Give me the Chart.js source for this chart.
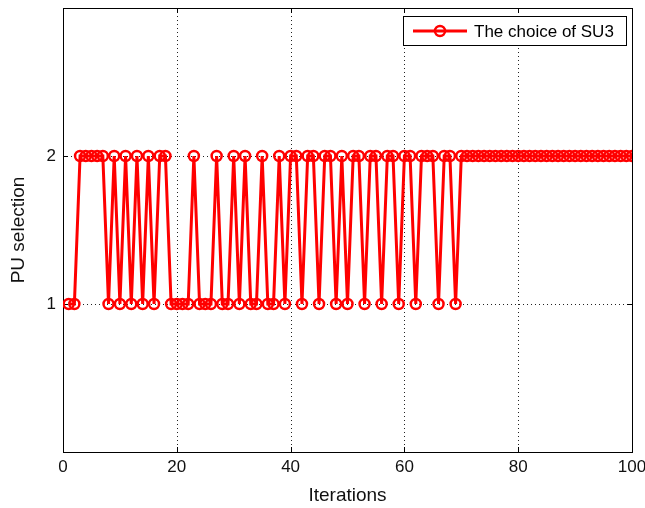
<!DOCTYPE html>
<html lang="en">
<head>
    <meta charset="UTF-8">
    <title>The choice of SU3</title>
    <style>
        body {
            margin: 0;
            padding: 0;
            background: #ffffff;
        }
        #chartBox {
            width: 645px;
            height: 508px;
        }
    </style>
    <script src="https://cdn.jsdelivr.net/npm/chart.js"></script>
</head>
<body>
    <div id="chartBox">
        <canvas id="suChart" width="645" height="508"></canvas>
    </div>

    <script>
        // PU chosen by SU3 at each iteration (1..100)
        const choiceSU3 = [
            1, 1, 2, 2, 2, 2, 2, 1, 2, 1,
            2, 1, 2, 1, 2, 1, 2, 2, 1, 1,
            1, 1, 2, 1, 1, 1, 2, 1, 1, 2,
            1, 2, 1, 1, 2, 1, 1, 2, 1, 2,
            2, 1, 2, 2, 1, 2, 2, 1, 2, 1,
            2, 2, 1, 2, 2, 1, 2, 2, 1, 2,
            2, 1, 2, 2, 2, 1, 2, 2, 1, 2,
            2, 2, 2, 2, 2, 2, 2, 2, 2, 2,
            2, 2, 2, 2, 2, 2, 2, 2, 2, 2,
            2, 2, 2, 2, 2, 2, 2, 2, 2, 2
        ];
        const iterations = choiceSU3.map((v, i) => i + 1);
        const xTicks = [0, 20, 40, 60, 80, 100];
        const yTicks = [1, 2];
        const seriesName = 'The choice of SU3';

        const lineColor = '#ff0000';
        const fontName = '"Liberation Sans", Arial, sans-serif';

        // marco, rejilla punteada y marcas hacia dentro (estilo MATLAB)
        const framePlugin = {
            id: 'frame',
            beforeDatasetsDraw(chart) {
                const ctx = chart.ctx;
                const a = chart.chartArea;
                const xs = chart.scales.x;
                const ys = chart.scales.y;
                ctx.save();
                ctx.strokeStyle = '#222';
                ctx.lineWidth = 1;
                ctx.setLineDash([1, 3]);
                xTicks.slice(1, -1).forEach(t => {
                    const px = Math.round(xs.getPixelForValue(t)) + 0.5;
                    ctx.beginPath();
                    ctx.moveTo(px, a.top);
                    ctx.lineTo(px, a.bottom);
                    ctx.stroke();
                });
                yTicks.forEach(t => {
                    const py = Math.round(ys.getPixelForValue(t)) + 0.5;
                    ctx.beginPath();
                    ctx.moveTo(a.left, py);
                    ctx.lineTo(a.right, py);
                    ctx.stroke();
                });
                ctx.setLineDash([]);
                ctx.strokeStyle = '#000';
                ctx.strokeRect(Math.round(a.left) + 0.5, Math.round(a.top) + 0.5,
                    Math.round(a.right - a.left), Math.round(a.bottom - a.top));
                const tl = 5;
                xTicks.slice(1, -1).forEach(t => {
                    const px = Math.round(xs.getPixelForValue(t)) + 0.5;
                    ctx.beginPath();
                    ctx.moveTo(px, a.bottom);
                    ctx.lineTo(px, a.bottom - tl);
                    ctx.moveTo(px, a.top);
                    ctx.lineTo(px, a.top + tl);
                    ctx.stroke();
                });
                yTicks.forEach(t => {
                    const py = Math.round(ys.getPixelForValue(t)) + 0.5;
                    ctx.beginPath();
                    ctx.moveTo(a.left, py);
                    ctx.lineTo(a.left + tl, py);
                    ctx.moveTo(a.right, py);
                    ctx.lineTo(a.right - tl, py);
                    ctx.stroke();
                });
                ctx.restore();
            },
            afterDraw(chart) {
                // leyenda en la esquina superior derecha
                const ctx = chart.ctx;
                const bx = 403, by = 16, bw = 223, bh = 29;
                ctx.save();
                ctx.fillStyle = '#fff';
                ctx.fillRect(bx, by, bw, bh);
                ctx.strokeStyle = '#000';
                ctx.lineWidth = 1;
                ctx.strokeRect(bx + 0.5, by + 0.5, bw, bh);
                const my = by + bh / 2 + 0.5;
                ctx.strokeStyle = lineColor;
                ctx.lineWidth = 3;
                ctx.beginPath();
                ctx.moveTo(413, my);
                ctx.lineTo(467, my);
                ctx.stroke();
                ctx.lineWidth = 2.5;
                ctx.beginPath();
                ctx.arc(440, my, 5, 0, Math.PI * 2);
                ctx.stroke();
                ctx.fillStyle = '#000';
                ctx.font = '17px ' + fontName;
                ctx.textBaseline = 'middle';
                ctx.fillText(seriesName, 474, my + 1);
                ctx.restore();
            }
        };

        // quitar el relleno automatico que Chart.js deja para las etiquetas extremas
        function noEdgePadding(s) {
            s.paddingLeft = 0;
            s.paddingRight = 0;
            s.paddingTop = 0;
            s.paddingBottom = 0;
        }

        new Chart(document.getElementById('suChart'), {
            type: 'line',
            data: {
                datasets: [{
                    label: seriesName,
                    data: iterations.map((it, i) => ({ x: it, y: choiceSU3[i] })),
                    borderColor: lineColor,
                    borderWidth: 3,
                    pointRadius: 5,
                    pointBorderWidth: 2.5,
                    pointBorderColor: lineColor,
                    pointBackgroundColor: 'rgba(0,0,0,0)',
                    tension: 0
                }]
            },
            options: {
                responsive: false,
                animation: false,
                layout: { padding: { top: 8, right: 13, left: 0, bottom: 0 } },
                plugins: {
                    legend: { display: false },
                    tooltip: { enabled: false }
                },
                scales: {
                    x: {
                        type: 'linear',
                        min: 0,
                        max: 100,
                        afterBuildTicks: s => { s.ticks = xTicks.map(v => ({ value: v })); },
                        afterFit: s => { s.height = 56; noEdgePadding(s); },
                        grid: { display: false, drawTicks: false },
                        border: { display: false },
                        ticks: {
                            color: '#111',
                            padding: 5,
                            maxRotation: 0,
                            font: { family: fontName, size: 17 }
                        },
                        title: {
                            display: true,
                            text: 'Iterations',
                            color: '#111',
                            padding: { top: 0, bottom: 1 },
                            font: { family: fontName, size: 19 }
                        }
                    },
                    y: {
                        type: 'linear',
                        min: 0,
                        max: 3,
                        afterBuildTicks: s => { s.ticks = yTicks.map(v => ({ value: v })); },
                        afterFit: s => { s.width = 63; noEdgePadding(s); },
                        grid: { display: false, drawTicks: false },
                        border: { display: false },
                        ticks: {
                            color: '#111',
                            padding: 7,
                            font: { family: fontName, size: 17 }
                        },
                        title: {
                            display: true,
                            text: 'PU selection',
                            color: '#111',
                            padding: { top: 7, bottom: 0 },
                            font: { family: fontName, size: 19 }
                        }
                    }
                }
            },
            plugins: [framePlugin]
        });
    </script>
</body>
</html>
